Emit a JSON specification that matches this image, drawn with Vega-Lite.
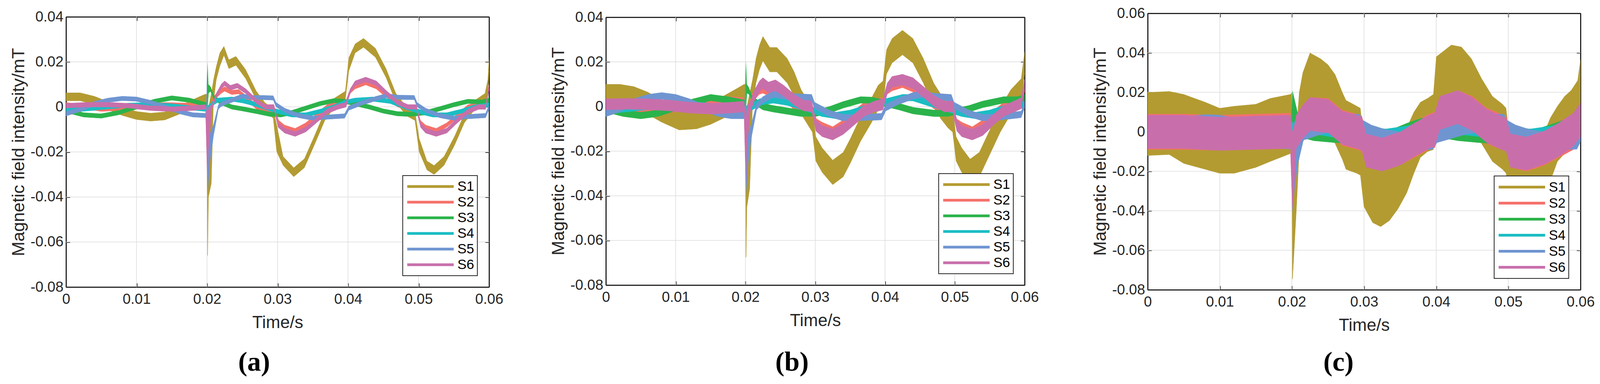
{
"$schema": "https://vega.github.io/schema/vega-lite/v6.json",
"background": "white",
"width": 4098, "height": 982,
"autosize": {"type": "none"},
"padding": 0,
"config": {
  "font": "Liberation Sans",
  "view": {"stroke": null},
  "axis": {"labelFont": "Liberation Sans", "labelFontSize": 37, "labelColor": "#262626", "titleFont": "Liberation Sans", "titleFontSize": 45, "titleFontWeight": "normal", "titleColor": "#262626", "domainColor": "#262626", "domainWidth": 3, "tickColor": "#262626", "tickWidth": 3, "tickSize": -10, "grid": false, "labelFlush": false, "labelOverlap": false},
  "legend": {"title": null, "symbolType": "stroke", "symbolSize": 14161, "symbolStrokeWidth": 7, "rowPadding": 0, "labelFont": "Liberation Sans", "labelFontSize": 35, "labelColor": "#000000", "labelOffset": 6, "padding": 8, "strokeColor": "#262626", "fillColor": "#ffffff", "zindex": 1}
},
"resolve": {"scale": {"x": "independent", "y": "independent", "color": "independent"}, "axis": {"x": "independent", "y": "independent"}, "legend": {"color": "independent"}},
"layer": [
 {"data": {"name": "ga"}, "mark": {"type": "rule", "color": "#dcdcdc", "strokeWidth": 1.5},
  "encoding": {
   "x": {"field": "gx", "type": "quantitative", "scale": {"domain": [0, 0.06], "range": [169, 1252], "nice": false, "zero": false}, "axis": null},
   "x2": {"field": "gx2"},
   "y": {"field": "gy", "type": "quantitative", "scale": {"domain": [-0.08, 0.04], "range": [734, 43], "nice": false, "zero": false}, "axis": null},
   "y2": {"field": "gy2"}
  }},
 {"data": {"name": "a"}, "mark": {"type": "line", "strokeWidth": 1},
  "encoding": {
   "x": {"field": "t", "type": "quantitative", "scale": {"domain": [0, 0.06], "range": [169, 1252], "nice": false, "zero": false}, "axis": {"orient": "top", "offset": -43, "values": [0, 0.01, 0.02, 0.03, 0.04, 0.05, 0.06], "labels": false, "title": null}},
   "y": {"field": "lo", "type": "quantitative", "scale": {"domain": [-0.08, 0.04], "range": [734, 43], "nice": false, "zero": false}, "axis": {"orient": "right", "offset": -2846, "values": [-0.08, -0.06, -0.04, -0.02, 0, 0.02, 0.04], "labels": false, "title": null}},
   "color": {"field": "s", "type": "nominal", "scale": {"domain": ["S1", "S2", "S3", "S4", "S5", "S6"], "range": ["#b39b32", "#f5716b", "#2bb34b", "#1bbdc3", "#6f95d1", "#c86fab"]},
    "legend": {"orient": "none", "legendX": 1031, "legendY": 449, "clipHeight": 40, "encode": {"legend": {"update": {"strokeWidth": {"value": 2}}}}}}
  }},
 {"data": {"name": "a"}, "mark": {"type": "area", "opacity": 1},
  "encoding": {
   "x": {"field": "t", "type": "quantitative", "scale": {"domain": [0, 0.06], "range": [169, 1252], "nice": false, "zero": false}, "axis": {"orient": "bottom", "offset": -248, "values": [0, 0.01, 0.02, 0.03, 0.04, 0.05, 0.06], "title": "Time/s", "titleFontSize": 44, "labelPadding": 23, "titlePadding": 20, "labelExpr": "abs(datum.value) < 1e-9 ? '0' : (datum.value < 0 ? '-' + format(-datum.value, '.2f') : format(datum.value, '.2f'))"}},
   "y": {"field": "lo", "type": "quantitative", "scale": {"domain": [-0.08, 0.04], "range": [734, 43], "nice": false, "zero": false}, "axis": {"orient": "left", "offset": -169, "values": [-0.08, -0.06, -0.04, -0.02, 0, 0.02, 0.04], "title": "Magnetic field intensity/mT", "labelPadding": 17, "titlePadding": 7, "labelExpr": "abs(datum.value) < 1e-9 ? '0' : (datum.value < 0 ? '-' + format(-datum.value, '.2f') : format(datum.value, '.2f'))"}},
   "y2": {"field": "hi"},
   "color": {"field": "s", "type": "nominal", "scale": {"domain": ["S1", "S2", "S3", "S4", "S5", "S6"], "range": ["#b39b32", "#f5716b", "#2bb34b", "#1bbdc3", "#6f95d1", "#c86fab"]}, "legend": null}
  }},
 {"data": {"name": "a"}, "mark": {"type": "point", "opacity": 0},
  "encoding": {
   "x": {"field": "t", "type": "quantitative", "scale": {"domain": [0, 0.06], "range": [169, 1252], "nice": false, "zero": false}, "axis": {"orient": "bottom", "offset": -248, "domain": false, "ticks": false, "labels": false, "title": "(a)", "titleFont": "Liberation Serif", "titleFontSize": 70, "titleFontWeight": "bold", "titleColor": "#000000", "titleX": 650, "titleY": 213, "titleBaseline": "alphabetic", "titleAlign": "center"}},
   "y": {"field": "lo", "type": "quantitative", "scale": {"domain": [-0.08, 0.04], "range": [734, 43], "nice": false, "zero": false}, "axis": null}
  }},
 {"data": {"name": "gb"}, "mark": {"type": "rule", "color": "#dcdcdc", "strokeWidth": 1.5},
  "encoding": {
   "x": {"field": "gx", "type": "quantitative", "scale": {"domain": [0, 0.06], "range": [1551, 2623], "nice": false, "zero": false}, "axis": null},
   "x2": {"field": "gx2"},
   "y": {"field": "gy", "type": "quantitative", "scale": {"domain": [-0.08, 0.04], "range": [729, 44], "nice": false, "zero": false}, "axis": null},
   "y2": {"field": "gy2"}
  }},
 {"data": {"name": "b"}, "mark": {"type": "line", "strokeWidth": 1},
  "encoding": {
   "x": {"field": "t", "type": "quantitative", "scale": {"domain": [0, 0.06], "range": [1551, 2623], "nice": false, "zero": false}, "axis": {"orient": "top", "offset": -44, "values": [0, 0.01, 0.02, 0.03, 0.04, 0.05, 0.06], "labels": false, "title": null}},
   "y": {"field": "lo", "type": "quantitative", "scale": {"domain": [-0.08, 0.04], "range": [729, 44], "nice": false, "zero": false}, "axis": {"orient": "right", "offset": -1475, "values": [-0.08, -0.06, -0.04, -0.02, 0, 0.02, 0.04], "labels": false, "title": null}},
   "color": {"field": "s", "type": "nominal", "scale": {"domain": ["S1", "S2", "S3", "S4", "S5", "S6"], "range": ["#b39b32", "#f5716b", "#2bb34b", "#1bbdc3", "#6f95d1", "#c86fab"]},
    "legend": {"orient": "none", "legendX": 2403, "legendY": 444, "clipHeight": 40, "encode": {"legend": {"update": {"strokeWidth": {"value": 2}}}}}}
  }},
 {"data": {"name": "b"}, "mark": {"type": "area", "opacity": 1},
  "encoding": {
   "x": {"field": "t", "type": "quantitative", "scale": {"domain": [0, 0.06], "range": [1551, 2623], "nice": false, "zero": false}, "axis": {"orient": "bottom", "offset": -253, "values": [0, 0.01, 0.02, 0.03, 0.04, 0.05, 0.06], "title": "Time/s", "titleFontSize": 44, "labelPadding": 23, "titlePadding": 20, "labelExpr": "abs(datum.value) < 1e-9 ? '0' : (datum.value < 0 ? '-' + format(-datum.value, '.2f') : format(datum.value, '.2f'))"}},
   "y": {"field": "lo", "type": "quantitative", "scale": {"domain": [-0.08, 0.04], "range": [729, 44], "nice": false, "zero": false}, "axis": {"orient": "left", "offset": -1551, "values": [-0.08, -0.06, -0.04, -0.02, 0, 0.02, 0.04], "title": "Magnetic field intensity/mT", "labelPadding": 17, "titlePadding": 7, "labelExpr": "abs(datum.value) < 1e-9 ? '0' : (datum.value < 0 ? '-' + format(-datum.value, '.2f') : format(datum.value, '.2f'))"}},
   "y2": {"field": "hi"},
   "color": {"field": "s", "type": "nominal", "scale": {"domain": ["S1", "S2", "S3", "S4", "S5", "S6"], "range": ["#b39b32", "#f5716b", "#2bb34b", "#1bbdc3", "#6f95d1", "#c86fab"]}, "legend": null}
  }},
 {"data": {"name": "b"}, "mark": {"type": "point", "opacity": 0},
  "encoding": {
   "x": {"field": "t", "type": "quantitative", "scale": {"domain": [0, 0.06], "range": [1551, 2623], "nice": false, "zero": false}, "axis": {"orient": "bottom", "offset": -253, "domain": false, "ticks": false, "labels": false, "title": "(b)", "titleFont": "Liberation Serif", "titleFontSize": 70, "titleFontWeight": "bold", "titleColor": "#000000", "titleX": 2027, "titleY": 218, "titleBaseline": "alphabetic", "titleAlign": "center"}},
   "y": {"field": "lo", "type": "quantitative", "scale": {"domain": [-0.08, 0.04], "range": [729, 44], "nice": false, "zero": false}, "axis": null}
  }},
 {"data": {"name": "gc"}, "mark": {"type": "rule", "color": "#dcdcdc", "strokeWidth": 1.5},
  "encoding": {
   "x": {"field": "gx", "type": "quantitative", "scale": {"domain": [0, 0.06], "range": [2938, 4046], "nice": false, "zero": false}, "axis": null},
   "x2": {"field": "gx2"},
   "y": {"field": "gy", "type": "quantitative", "scale": {"domain": [-0.08, 0.06], "range": [741, 34], "nice": false, "zero": false}, "axis": null},
   "y2": {"field": "gy2"}
  }},
 {"data": {"name": "c"}, "mark": {"type": "line", "strokeWidth": 1},
  "encoding": {
   "x": {"field": "t", "type": "quantitative", "scale": {"domain": [0, 0.06], "range": [2938, 4046], "nice": false, "zero": false}, "axis": {"orient": "top", "offset": -34, "values": [0, 0.01, 0.02, 0.03, 0.04, 0.05, 0.06], "labels": false, "title": null}},
   "y": {"field": "lo", "type": "quantitative", "scale": {"domain": [-0.08, 0.06], "range": [741, 34], "nice": false, "zero": false}, "axis": {"orient": "right", "offset": -52, "values": [-0.08, -0.06, -0.04, -0.02, 0, 0.02, 0.04, 0.06], "labels": false, "title": null}},
   "color": {"field": "s", "type": "nominal", "scale": {"domain": ["S1", "S2", "S3", "S4", "S5", "S6"], "range": ["#b39b32", "#f5716b", "#2bb34b", "#1bbdc3", "#6f95d1", "#c86fab"]},
    "legend": {"orient": "none", "legendX": 3825, "legendY": 450, "clipHeight": 41, "encode": {"legend": {"update": {"strokeWidth": {"value": 2}}}}}}
  }},
 {"data": {"name": "c"}, "mark": {"type": "area", "opacity": 1},
  "encoding": {
   "x": {"field": "t", "type": "quantitative", "scale": {"domain": [0, 0.06], "range": [2938, 4046], "nice": false, "zero": false}, "axis": {"orient": "bottom", "offset": -241, "values": [0, 0.01, 0.02, 0.03, 0.04, 0.05, 0.06], "title": "Time/s", "titleFontSize": 44, "labelPadding": 23, "titlePadding": 20, "labelExpr": "abs(datum.value) < 1e-9 ? '0' : (datum.value < 0 ? '-' + format(-datum.value, '.2f') : format(datum.value, '.2f'))"}},
   "y": {"field": "lo", "type": "quantitative", "scale": {"domain": [-0.08, 0.06], "range": [741, 34], "nice": false, "zero": false}, "axis": {"orient": "left", "offset": -2938, "values": [-0.08, -0.06, -0.04, -0.02, 0, 0.02, 0.04, 0.06], "title": "Magnetic field intensity/mT", "labelPadding": 17, "titlePadding": 7, "labelExpr": "abs(datum.value) < 1e-9 ? '0' : (datum.value < 0 ? '-' + format(-datum.value, '.2f') : format(datum.value, '.2f'))"}},
   "y2": {"field": "hi"},
   "color": {"field": "s", "type": "nominal", "scale": {"domain": ["S1", "S2", "S3", "S4", "S5", "S6"], "range": ["#b39b32", "#f5716b", "#2bb34b", "#1bbdc3", "#6f95d1", "#c86fab"]}, "legend": null}
  }},
 {"data": {"name": "c"}, "mark": {"type": "point", "opacity": 0},
  "encoding": {
   "x": {"field": "t", "type": "quantitative", "scale": {"domain": [0, 0.06], "range": [2938, 4046], "nice": false, "zero": false}, "axis": {"orient": "bottom", "offset": -241, "domain": false, "ticks": false, "labels": false, "title": "(c)", "titleFont": "Liberation Serif", "titleFontSize": 70, "titleFontWeight": "bold", "titleColor": "#000000", "titleX": 3426, "titleY": 206, "titleBaseline": "alphabetic", "titleAlign": "center"}},
   "y": {"field": "lo", "type": "quantitative", "scale": {"domain": [-0.08, 0.06], "range": [741, 34], "nice": false, "zero": false}, "axis": null}
  }}
],
"datasets": {
"ga": [
{"gx":0.01,"gx2":0.01,"gy":-0.08,"gy2":0.04},{"gx":0.02,"gx2":0.02,"gy":-0.08,"gy2":0.04},{"gx":0.03,"gx2":0.03,"gy":-0.08,"gy2":0.04},{"gx":0.04,"gx2":0.04,"gy":-0.08,"gy2":0.04},{"gx":0.05,"gx2":0.05,"gy":-0.08,"gy2":0.04},
{"gx":0,"gx2":0.06,"gy":-0.06,"gy2":-0.06},{"gx":0,"gx2":0.06,"gy":-0.04,"gy2":-0.04},{"gx":0,"gx2":0.06,"gy":-0.02,"gy2":-0.02},{"gx":0,"gx2":0.06,"gy":0,"gy2":0},{"gx":0,"gx2":0.06,"gy":0.02,"gy2":0.02}
],
"gb": [
{"gx":0.01,"gx2":0.01,"gy":-0.08,"gy2":0.04},{"gx":0.02,"gx2":0.02,"gy":-0.08,"gy2":0.04},{"gx":0.03,"gx2":0.03,"gy":-0.08,"gy2":0.04},{"gx":0.04,"gx2":0.04,"gy":-0.08,"gy2":0.04},{"gx":0.05,"gx2":0.05,"gy":-0.08,"gy2":0.04},
{"gx":0,"gx2":0.06,"gy":-0.06,"gy2":-0.06},{"gx":0,"gx2":0.06,"gy":-0.04,"gy2":-0.04},{"gx":0,"gx2":0.06,"gy":-0.02,"gy2":-0.02},{"gx":0,"gx2":0.06,"gy":0,"gy2":0},{"gx":0,"gx2":0.06,"gy":0.02,"gy2":0.02}
],
"gc": [
{"gx":0.01,"gx2":0.01,"gy":-0.08,"gy2":0.06},{"gx":0.02,"gx2":0.02,"gy":-0.08,"gy2":0.06},{"gx":0.03,"gx2":0.03,"gy":-0.08,"gy2":0.06},{"gx":0.04,"gx2":0.04,"gy":-0.08,"gy2":0.06},{"gx":0.05,"gx2":0.05,"gy":-0.08,"gy2":0.06},
{"gx":0,"gx2":0.06,"gy":-0.06,"gy2":-0.06},{"gx":0,"gx2":0.06,"gy":-0.04,"gy2":-0.04},{"gx":0,"gx2":0.06,"gy":-0.02,"gy2":-0.02},{"gx":0,"gx2":0.06,"gy":0,"gy2":0},{"gx":0,"gx2":0.06,"gy":0.02,"gy2":0.02},{"gx":0,"gx2":0.06,"gy":0.04,"gy2":0.04}
],
"a": [
{"s":"S1","t":0,"lo":0.0027,"hi":0.0063},{"s":"S1","t":0.002,"lo":0.0027,"hi":0.0063},{"s":"S1","t":0.004,"lo":0.0012,"hi":0.0048},{"s":"S1","t":0.006,"lo":-0.0013,"hi":0.0023},{"s":"S1","t":0.008,"lo":-0.0038,"hi":-0.0002},{"s":"S1","t":0.01,"lo":-0.0056,"hi":-0.002},{"s":"S1","t":0.012,"lo":-0.0063,"hi":-0.0027},{"s":"S1","t":0.014,"lo":-0.0058,"hi":-0.0022},{"s":"S1","t":0.016,"lo":-0.0033,"hi":0.0003},{"s":"S1","t":0.018,"lo":-0.0003,"hi":0.0033},{"s":"S1","t":0.0198,"lo":0.0022,"hi":0.0058},{"s":"S1","t":0.02,"lo":0.0015,"hi":0.0055},{"s":"S1","t":0.02008,"lo":-0.066,"hi":-0.01},{"s":"S1","t":0.0202,"lo":-0.04,"hi":0},{"s":"S1","t":0.0206,"lo":-0.034,"hi":0.006},{"s":"S1","t":0.0209,"lo":0.002,"hi":0.012},{"s":"S1","t":0.0213,"lo":0.012,"hi":0.018},{"s":"S1","t":0.0218,"lo":0.018,"hi":0.024},{"s":"S1","t":0.0224,"lo":0.023,"hi":0.027},{"s":"S1","t":0.0231,"lo":0.017,"hi":0.021},{"s":"S1","t":0.0241,"lo":0.0185,"hi":0.0225},{"s":"S1","t":0.0255,"lo":0.0125,"hi":0.0165},{"s":"S1","t":0.027,"lo":0.003,"hi":0.007},{"s":"S1","t":0.0282,"lo":-0.002,"hi":0.002},{"s":"S1","t":0.0294,"lo":-0.005,"hi":-0.001},{"s":"S1","t":0.0299,"lo":-0.02,"hi":-0.008},{"s":"S1","t":0.0308,"lo":-0.026,"hi":-0.022},{"s":"S1","t":0.0323,"lo":-0.031,"hi":-0.027},{"s":"S1","t":0.0338,"lo":-0.027,"hi":-0.023},{"s":"S1","t":0.0352,"lo":-0.017,"hi":-0.013},{"s":"S1","t":0.0367,"lo":-0.006,"hi":-0.002},{"s":"S1","t":0.0381,"lo":0,"hi":0.004},{"s":"S1","t":0.0396,"lo":0.003,"hi":0.007},{"s":"S1","t":0.0401,"lo":0.016,"hi":0.022},{"s":"S1","t":0.041,"lo":0.024,"hi":0.028},{"s":"S1","t":0.0422,"lo":0.0265,"hi":0.0305},{"s":"S1","t":0.0439,"lo":0.022,"hi":0.026},{"s":"S1","t":0.0454,"lo":0.013,"hi":0.017},{"s":"S1","t":0.0468,"lo":0.002,"hi":0.006},{"s":"S1","t":0.0483,"lo":-0.004,"hi":0},{"s":"S1","t":0.0495,"lo":-0.006,"hi":-0.002},{"s":"S1","t":0.0501,"lo":-0.02,"hi":-0.014},{"s":"S1","t":0.0512,"lo":-0.028,"hi":-0.024},{"s":"S1","t":0.0522,"lo":-0.03,"hi":-0.026},{"s":"S1","t":0.0536,"lo":-0.026,"hi":-0.022},{"s":"S1","t":0.0551,"lo":-0.017,"hi":-0.013},{"s":"S1","t":0.0565,"lo":-0.007,"hi":-0.003},{"s":"S1","t":0.058,"lo":-0.001,"hi":0.003},{"s":"S1","t":0.0594,"lo":0.002,"hi":0.006},{"s":"S1","t":0.0598,"lo":0.004,"hi":0.012},{"s":"S1","t":0.06,"lo":0.016,"hi":0.022},
{"s":"S2","t":0,"lo":0,"hi":0.002},{"s":"S2","t":0.003,"lo":-0.001,"hi":0.001},{"s":"S2","t":0.005,"lo":-0.002,"hi":0},{"s":"S2","t":0.008,"lo":-0.0015,"hi":0.0005},{"s":"S2","t":0.011,"lo":-0.0005,"hi":0.0015},{"s":"S2","t":0.014,"lo":0,"hi":0.002},{"s":"S2","t":0.017,"lo":-0.0002,"hi":0.0018},{"s":"S2","t":0.0198,"lo":-0.0007,"hi":0.0013},{"s":"S2","t":0.02008,"lo":-0.03,"hi":0},{"s":"S2","t":0.0205,"lo":-0.001,"hi":0.001},{"s":"S2","t":0.021,"lo":0.003,"hi":0.005},{"s":"S2","t":0.022,"lo":0.006,"hi":0.008},{"s":"S2","t":0.0225,"lo":0.007,"hi":0.009},{"s":"S2","t":0.0235,"lo":0.0055,"hi":0.0075},{"s":"S2","t":0.0245,"lo":0.0058,"hi":0.0078},{"s":"S2","t":0.026,"lo":0.002,"hi":0.004},{"s":"S2","t":0.027,"lo":-0.001,"hi":0.001},{"s":"S2","t":0.028,"lo":-0.002,"hi":0},{"s":"S2","t":0.0295,"lo":-0.0025,"hi":-0.0005},{"s":"S2","t":0.0302,"lo":-0.008,"hi":-0.006},{"s":"S2","t":0.031,"lo":-0.01,"hi":-0.008},{"s":"S2","t":0.0325,"lo":-0.0115,"hi":-0.0095},{"s":"S2","t":0.034,"lo":-0.009,"hi":-0.007},{"s":"S2","t":0.0355,"lo":-0.005,"hi":-0.003},{"s":"S2","t":0.037,"lo":-0.001,"hi":0.001},{"s":"S2","t":0.0385,"lo":0.001,"hi":0.003},{"s":"S2","t":0.0397,"lo":0.001,"hi":0.003},{"s":"S2","t":0.0403,"lo":0.006,"hi":0.008},{"s":"S2","t":0.041,"lo":0.008,"hi":0.01},{"s":"S2","t":0.0425,"lo":0.0098,"hi":0.0118},{"s":"S2","t":0.044,"lo":0.008,"hi":0.01},{"s":"S2","t":0.0455,"lo":0.004,"hi":0.006},{"s":"S2","t":0.047,"lo":0,"hi":0.002},{"s":"S2","t":0.0485,"lo":-0.0015,"hi":0.0005},{"s":"S2","t":0.0497,"lo":-0.002,"hi":0},{"s":"S2","t":0.0503,"lo":-0.008,"hi":-0.006},{"s":"S2","t":0.051,"lo":-0.01,"hi":-0.008},{"s":"S2","t":0.0525,"lo":-0.0115,"hi":-0.0095},{"s":"S2","t":0.054,"lo":-0.009,"hi":-0.007},{"s":"S2","t":0.0555,"lo":-0.005,"hi":-0.003},{"s":"S2","t":0.057,"lo":-0.001,"hi":0.001},{"s":"S2","t":0.0585,"lo":0,"hi":0.002},{"s":"S2","t":0.0595,"lo":0,"hi":0.002},{"s":"S2","t":0.06,"lo":0.008,"hi":0.01},
{"s":"S3","t":0,"lo":-0.0025,"hi":-0.0005},{"s":"S3","t":0.0025,"lo":-0.0045,"hi":-0.0025},{"s":"S3","t":0.005,"lo":-0.005,"hi":-0.003},{"s":"S3","t":0.0075,"lo":-0.0035,"hi":-0.0015},{"s":"S3","t":0.01,"lo":-0.001,"hi":0.001},{"s":"S3","t":0.0125,"lo":0.0015,"hi":0.0035},{"s":"S3","t":0.015,"lo":0.003,"hi":0.005},{"s":"S3","t":0.0175,"lo":0.002,"hi":0.004},{"s":"S3","t":0.0199,"lo":0,"hi":0.002},{"s":"S3","t":0.02008,"lo":0,"hi":0.02},{"s":"S3","t":0.0202,"lo":0.006,"hi":0.01},{"s":"S3","t":0.0205,"lo":0.007,"hi":0.009},{"s":"S3","t":0.021,"lo":0.003,"hi":0.005},{"s":"S3","t":0.022,"lo":0.001,"hi":0.003},{"s":"S3","t":0.0235,"lo":-0.001,"hi":0.001},{"s":"S3","t":0.025,"lo":-0.0018,"hi":0.0002},{"s":"S3","t":0.027,"lo":-0.003,"hi":-0.001},{"s":"S3","t":0.029,"lo":-0.0043,"hi":-0.0023},{"s":"S3","t":0.0305,"lo":-0.0045,"hi":-0.0025},{"s":"S3","t":0.032,"lo":-0.0035,"hi":-0.0015},{"s":"S3","t":0.034,"lo":-0.0015,"hi":0.0005},{"s":"S3","t":0.036,"lo":0.0005,"hi":0.0025},{"s":"S3","t":0.038,"lo":0.0018,"hi":0.0038},{"s":"S3","t":0.0395,"lo":0.0015,"hi":0.0035},{"s":"S3","t":0.041,"lo":0.0005,"hi":0.0025},{"s":"S3","t":0.043,"lo":-0.001,"hi":0.001},{"s":"S3","t":0.045,"lo":-0.0028,"hi":-0.0008},{"s":"S3","t":0.047,"lo":-0.004,"hi":-0.002},{"s":"S3","t":0.049,"lo":-0.0043,"hi":-0.0023},{"s":"S3","t":0.051,"lo":-0.0035,"hi":-0.0015},{"s":"S3","t":0.053,"lo":-0.0018,"hi":0.0002},{"s":"S3","t":0.055,"lo":0,"hi":0.002},{"s":"S3","t":0.057,"lo":0.0015,"hi":0.0035},{"s":"S3","t":0.059,"lo":0.0012,"hi":0.0032},{"s":"S3","t":0.06,"lo":0.002,"hi":0.004},
{"s":"S4","t":0,"lo":-0.0025,"hi":-0.0005},{"s":"S4","t":0.003,"lo":-0.0018,"hi":0.0002},{"s":"S4","t":0.006,"lo":-0.001,"hi":0.001},{"s":"S4","t":0.009,"lo":-0.0002,"hi":0.0018},{"s":"S4","t":0.012,"lo":0,"hi":0.002},{"s":"S4","t":0.015,"lo":-0.0005,"hi":0.0015},{"s":"S4","t":0.018,"lo":-0.0015,"hi":0.0005},{"s":"S4","t":0.0199,"lo":-0.002,"hi":0},{"s":"S4","t":0.021,"lo":0.001,"hi":0.003},{"s":"S4","t":0.0215,"lo":0.002,"hi":0.004},{"s":"S4","t":0.0235,"lo":0.0025,"hi":0.0045},{"s":"S4","t":0.025,"lo":0.0018,"hi":0.0038},{"s":"S4","t":0.026,"lo":0.001,"hi":0.003},{"s":"S4","t":0.028,"lo":-0.001,"hi":0.001},{"s":"S4","t":0.03,"lo":-0.003,"hi":-0.001},{"s":"S4","t":0.032,"lo":-0.0045,"hi":-0.0025},{"s":"S4","t":0.034,"lo":-0.0045,"hi":-0.0025},{"s":"S4","t":0.036,"lo":-0.003,"hi":-0.001},{"s":"S4","t":0.038,"lo":-0.001,"hi":0.001},{"s":"S4","t":0.0395,"lo":0.001,"hi":0.003},{"s":"S4","t":0.041,"lo":0.002,"hi":0.004},{"s":"S4","t":0.0435,"lo":0.0025,"hi":0.0045},{"s":"S4","t":0.046,"lo":0.0015,"hi":0.0035},{"s":"S4","t":0.048,"lo":-0.001,"hi":0.001},{"s":"S4","t":0.05,"lo":-0.003,"hi":-0.001},{"s":"S4","t":0.052,"lo":-0.0045,"hi":-0.0025},{"s":"S4","t":0.054,"lo":-0.0045,"hi":-0.0025},{"s":"S4","t":0.056,"lo":-0.003,"hi":-0.001},{"s":"S4","t":0.058,"lo":-0.001,"hi":0.001},{"s":"S4","t":0.06,"lo":0,"hi":0.002},
{"s":"S5","t":0,"lo":-0.004,"hi":-0.002},{"s":"S5","t":0.002,"lo":-0.0022,"hi":-0.0002},{"s":"S5","t":0.004,"lo":0.0005,"hi":0.0025},{"s":"S5","t":0.006,"lo":0.002,"hi":0.004},{"s":"S5","t":0.008,"lo":0.0028,"hi":0.0048},{"s":"S5","t":0.01,"lo":0.0025,"hi":0.0045},{"s":"S5","t":0.012,"lo":0.001,"hi":0.003},{"s":"S5","t":0.014,"lo":-0.001,"hi":0.001},{"s":"S5","t":0.016,"lo":-0.003,"hi":-0.001},{"s":"S5","t":0.018,"lo":-0.0045,"hi":-0.0025},{"s":"S5","t":0.0199,"lo":-0.0048,"hi":-0.0028},{"s":"S5","t":0.02,"lo":-0.004,"hi":0.016},{"s":"S5","t":0.02008,"lo":-0.039,"hi":0},{"s":"S5","t":0.0204,"lo":-0.025,"hi":-0.012},{"s":"S5","t":0.0209,"lo":-0.013,"hi":-0.008},{"s":"S5","t":0.0216,"lo":-0.001,"hi":0.001},{"s":"S5","t":0.022,"lo":0.0002,"hi":0.0022},{"s":"S5","t":0.0235,"lo":0.002,"hi":0.004},{"s":"S5","t":0.025,"lo":0.0038,"hi":0.0058},{"s":"S5","t":0.0265,"lo":0.0032,"hi":0.0052},{"s":"S5","t":0.028,"lo":0.0032,"hi":0.0052},{"s":"S5","t":0.0294,"lo":0.003,"hi":0.005},{"s":"S5","t":0.0298,"lo":0,"hi":0.002},{"s":"S5","t":0.031,"lo":-0.0025,"hi":-0.0005},{"s":"S5","t":0.033,"lo":-0.0048,"hi":-0.0028},{"s":"S5","t":0.035,"lo":-0.006,"hi":-0.004},{"s":"S5","t":0.037,"lo":-0.0055,"hi":-0.0035},{"s":"S5","t":0.0395,"lo":-0.005,"hi":-0.003},{"s":"S5","t":0.0401,"lo":-0.0015,"hi":0.0005},{"s":"S5","t":0.042,"lo":0.0008,"hi":0.0028},{"s":"S5","t":0.044,"lo":0.0028,"hi":0.0048},{"s":"S5","t":0.0455,"lo":0.004,"hi":0.006},{"s":"S5","t":0.047,"lo":0.0033,"hi":0.0053},{"s":"S5","t":0.0494,"lo":0.0032,"hi":0.0052},{"s":"S5","t":0.0498,"lo":0,"hi":0.002},{"s":"S5","t":0.051,"lo":-0.0025,"hi":-0.0005},{"s":"S5","t":0.053,"lo":-0.0048,"hi":-0.0028},{"s":"S5","t":0.055,"lo":-0.006,"hi":-0.004},{"s":"S5","t":0.057,"lo":-0.0053,"hi":-0.0033},{"s":"S5","t":0.0595,"lo":-0.0048,"hi":-0.0028},{"s":"S5","t":0.06,"lo":-0.001,"hi":0.001},
{"s":"S6","t":0,"lo":-0.0006,"hi":0.0016},{"s":"S6","t":0.003,"lo":-0.0001,"hi":0.0021},{"s":"S6","t":0.006,"lo":-0.0001,"hi":0.0021},{"s":"S6","t":0.009,"lo":-0.0006,"hi":0.0016},{"s":"S6","t":0.012,"lo":-0.0016,"hi":0.0006},{"s":"S6","t":0.015,"lo":-0.0021,"hi":0.0001},{"s":"S6","t":0.018,"lo":-0.0016,"hi":0.0006},{"s":"S6","t":0.0198,"lo":-0.0011,"hi":0.0011},{"s":"S6","t":0.02008,"lo":-0.036,"hi":-0.005},{"s":"S6","t":0.0202,"lo":-0.02,"hi":0},{"s":"S6","t":0.0207,"lo":-0.0011,"hi":0.0011},{"s":"S6","t":0.0213,"lo":0.0039,"hi":0.0061},{"s":"S6","t":0.022,"lo":0.0079,"hi":0.0101},{"s":"S6","t":0.0225,"lo":0.0094,"hi":0.0116},{"s":"S6","t":0.0233,"lo":0.0074,"hi":0.0096},{"s":"S6","t":0.0243,"lo":0.0084,"hi":0.0106},{"s":"S6","t":0.0255,"lo":0.0059,"hi":0.0081},{"s":"S6","t":0.027,"lo":0.0014,"hi":0.0036},{"s":"S6","t":0.0283,"lo":-0.0011,"hi":0.0011},{"s":"S6","t":0.0295,"lo":-0.0011,"hi":0.0011},{"s":"S6","t":0.0301,"lo":-0.0091,"hi":-0.0069},{"s":"S6","t":0.031,"lo":-0.0116,"hi":-0.0094},{"s":"S6","t":0.0325,"lo":-0.0131,"hi":-0.0109},{"s":"S6","t":0.034,"lo":-0.0111,"hi":-0.0089},{"s":"S6","t":0.0355,"lo":-0.0071,"hi":-0.0049},{"s":"S6","t":0.037,"lo":-0.0031,"hi":-0.0009},{"s":"S6","t":0.0385,"lo":-0.0011,"hi":0.0011},{"s":"S6","t":0.0397,"lo":-0.0001,"hi":0.0021},{"s":"S6","t":0.0403,"lo":0.0059,"hi":0.0081},{"s":"S6","t":0.041,"lo":0.0094,"hi":0.0116},{"s":"S6","t":0.0425,"lo":0.0111,"hi":0.0133},{"s":"S6","t":0.044,"lo":0.0094,"hi":0.0116},{"s":"S6","t":0.0455,"lo":0.0049,"hi":0.0071},{"s":"S6","t":0.047,"lo":0.0009,"hi":0.0031},{"s":"S6","t":0.0485,"lo":-0.0011,"hi":0.0011},{"s":"S6","t":0.0497,"lo":-0.0011,"hi":0.0011},{"s":"S6","t":0.0503,"lo":-0.0091,"hi":-0.0069},{"s":"S6","t":0.051,"lo":-0.0116,"hi":-0.0094},{"s":"S6","t":0.0525,"lo":-0.0131,"hi":-0.0109},{"s":"S6","t":0.054,"lo":-0.0116,"hi":-0.0094},{"s":"S6","t":0.0555,"lo":-0.0071,"hi":-0.0049},{"s":"S6","t":0.057,"lo":-0.0031,"hi":-0.0009},{"s":"S6","t":0.0585,"lo":-0.0011,"hi":0.0011},{"s":"S6","t":0.0595,"lo":-0.0011,"hi":0.0011},{"s":"S6","t":0.06,"lo":0.0079,"hi":0.0101}
],
"b": [
{"s":"S1","t":0,"lo":0,"hi":0.01},{"s":"S1","t":0.002,"lo":0,"hi":0.01},{"s":"S1","t":0.004,"lo":-0.001,"hi":0.009},{"s":"S1","t":0.006,"lo":-0.0035,"hi":0.0065},{"s":"S1","t":0.008,"lo":-0.007,"hi":0.003},{"s":"S1","t":0.0105,"lo":-0.0105,"hi":-0.0005},{"s":"S1","t":0.013,"lo":-0.01,"hi":0},{"s":"S1","t":0.015,"lo":-0.008,"hi":0.002},{"s":"S1","t":0.017,"lo":-0.005,"hi":0.005},{"s":"S1","t":0.019,"lo":-0.0015,"hi":0.0085},{"s":"S1","t":0.0198,"lo":0,"hi":0.01},{"s":"S1","t":0.02,"lo":0,"hi":0.01},{"s":"S1","t":0.02008,"lo":-0.0675,"hi":-0.01},{"s":"S1","t":0.0202,"lo":-0.045,"hi":0},{"s":"S1","t":0.0206,"lo":-0.037,"hi":0.006},{"s":"S1","t":0.021,"lo":0,"hi":0.012},{"s":"S1","t":0.0215,"lo":0.0105,"hi":0.0215},{"s":"S1","t":0.022,"lo":0.0165,"hi":0.0275},{"s":"S1","t":0.0225,"lo":0.0205,"hi":0.0315},{"s":"S1","t":0.0235,"lo":0.0155,"hi":0.0265},{"s":"S1","t":0.0245,"lo":0.0155,"hi":0.0265},{"s":"S1","t":0.026,"lo":0.0105,"hi":0.0215},{"s":"S1","t":0.027,"lo":0.0045,"hi":0.0155},{"s":"S1","t":0.028,"lo":-0.0035,"hi":0.0075},{"s":"S1","t":0.029,"lo":-0.0085,"hi":0.0025},{"s":"S1","t":0.0296,"lo":-0.0115,"hi":-0.0005},{"s":"S1","t":0.0301,"lo":-0.0245,"hi":-0.0135},{"s":"S1","t":0.031,"lo":-0.0295,"hi":-0.0185},{"s":"S1","t":0.0325,"lo":-0.035,"hi":-0.024},{"s":"S1","t":0.034,"lo":-0.0315,"hi":-0.0205},{"s":"S1","t":0.035,"lo":-0.0255,"hi":-0.0145},{"s":"S1","t":0.0365,"lo":-0.0155,"hi":-0.0045},{"s":"S1","t":0.038,"lo":-0.0075,"hi":0.0035},{"s":"S1","t":0.039,"lo":-0.0015,"hi":0.0095},{"s":"S1","t":0.0397,"lo":0.0005,"hi":0.0115},{"s":"S1","t":0.0402,"lo":0.0145,"hi":0.0255},{"s":"S1","t":0.041,"lo":0.0195,"hi":0.0305},{"s":"S1","t":0.0425,"lo":0.0232,"hi":0.0342},{"s":"S1","t":0.044,"lo":0.0195,"hi":0.0305},{"s":"S1","t":0.0455,"lo":0.0105,"hi":0.0215},{"s":"S1","t":0.047,"lo":-0.0005,"hi":0.0105},{"s":"S1","t":0.048,"lo":-0.0055,"hi":0.0055},{"s":"S1","t":0.049,"lo":-0.0095,"hi":0.0015},{"s":"S1","t":0.0497,"lo":-0.0115,"hi":-0.0005},{"s":"S1","t":0.0502,"lo":-0.0245,"hi":-0.0135},{"s":"S1","t":0.051,"lo":-0.0295,"hi":-0.0185},{"s":"S1","t":0.0522,"lo":-0.0345,"hi":-0.0235},{"s":"S1","t":0.0535,"lo":-0.0315,"hi":-0.0205},{"s":"S1","t":0.055,"lo":-0.0215,"hi":-0.0105},{"s":"S1","t":0.0565,"lo":-0.0115,"hi":-0.0005},{"s":"S1","t":0.058,"lo":-0.0035,"hi":0.0075},{"s":"S1","t":0.0595,"lo":0.0015,"hi":0.0125},{"s":"S1","t":0.06,"lo":0.015,"hi":0.025},
{"s":"S2","t":0,"lo":-0.0015,"hi":0.0025},{"s":"S2","t":0.003,"lo":-0.003,"hi":0.001},{"s":"S2","t":0.006,"lo":-0.004,"hi":0},{"s":"S2","t":0.009,"lo":-0.003,"hi":0.001},{"s":"S2","t":0.012,"lo":-0.0015,"hi":0.0025},{"s":"S2","t":0.015,"lo":-0.0002,"hi":0.0038},{"s":"S2","t":0.018,"lo":0.0005,"hi":0.0045},{"s":"S2","t":0.0198,"lo":0,"hi":0.004},{"s":"S2","t":0.02008,"lo":-0.03,"hi":0},{"s":"S2","t":0.0206,"lo":-0.002,"hi":0.002},{"s":"S2","t":0.021,"lo":0.002,"hi":0.006},{"s":"S2","t":0.022,"lo":0.0055,"hi":0.0095},{"s":"S2","t":0.0225,"lo":0.006,"hi":0.01},{"s":"S2","t":0.0235,"lo":0.0045,"hi":0.0085},{"s":"S2","t":0.0245,"lo":0.005,"hi":0.009},{"s":"S2","t":0.026,"lo":0.0015,"hi":0.0055},{"s":"S2","t":0.027,"lo":-0.0015,"hi":0.0025},{"s":"S2","t":0.028,"lo":-0.003,"hi":0.001},{"s":"S2","t":0.0295,"lo":-0.004,"hi":0},{"s":"S2","t":0.0302,"lo":-0.0095,"hi":-0.0055},{"s":"S2","t":0.031,"lo":-0.011,"hi":-0.007},{"s":"S2","t":0.0325,"lo":-0.013,"hi":-0.009},{"s":"S2","t":0.034,"lo":-0.01,"hi":-0.006},{"s":"S2","t":0.0355,"lo":-0.006,"hi":-0.002},{"s":"S2","t":0.037,"lo":-0.002,"hi":0.002},{"s":"S2","t":0.0385,"lo":-0.0005,"hi":0.0035},{"s":"S2","t":0.0397,"lo":0,"hi":0.004},{"s":"S2","t":0.0403,"lo":0.0055,"hi":0.0095},{"s":"S2","t":0.041,"lo":0.007,"hi":0.011},{"s":"S2","t":0.0425,"lo":0.0085,"hi":0.0125},{"s":"S2","t":0.044,"lo":0.0065,"hi":0.0105},{"s":"S2","t":0.0455,"lo":0.003,"hi":0.007},{"s":"S2","t":0.047,"lo":-0.001,"hi":0.003},{"s":"S2","t":0.0485,"lo":-0.003,"hi":0.001},{"s":"S2","t":0.0497,"lo":-0.004,"hi":0},{"s":"S2","t":0.0503,"lo":-0.0095,"hi":-0.0055},{"s":"S2","t":0.051,"lo":-0.011,"hi":-0.007},{"s":"S2","t":0.0525,"lo":-0.013,"hi":-0.009},{"s":"S2","t":0.054,"lo":-0.01,"hi":-0.006},{"s":"S2","t":0.0555,"lo":-0.006,"hi":-0.002},{"s":"S2","t":0.057,"lo":-0.002,"hi":0.002},{"s":"S2","t":0.0585,"lo":-0.001,"hi":0.003},{"s":"S2","t":0.0595,"lo":-0.0005,"hi":0.0035},{"s":"S2","t":0.06,"lo":0.007,"hi":0.011},
{"s":"S3","t":0,"lo":-0.0025,"hi":0.0005},{"s":"S3","t":0.0025,"lo":-0.0045,"hi":-0.0015},{"s":"S3","t":0.005,"lo":-0.0055,"hi":-0.0025},{"s":"S3","t":0.0075,"lo":-0.0045,"hi":-0.0015},{"s":"S3","t":0.01,"lo":-0.002,"hi":0.001},{"s":"S3","t":0.0125,"lo":0.0005,"hi":0.0035},{"s":"S3","t":0.015,"lo":0.0025,"hi":0.0055},{"s":"S3","t":0.0175,"lo":0.0015,"hi":0.0045},{"s":"S3","t":0.0199,"lo":0,"hi":0.003},{"s":"S3","t":0.02008,"lo":0,"hi":0.0205},{"s":"S3","t":0.0202,"lo":0.006,"hi":0.01},{"s":"S3","t":0.0205,"lo":0.0055,"hi":0.0085},{"s":"S3","t":0.021,"lo":0.0015,"hi":0.0045},{"s":"S3","t":0.0225,"lo":-0.0015,"hi":0.0015},{"s":"S3","t":0.024,"lo":-0.0025,"hi":0.0005},{"s":"S3","t":0.026,"lo":-0.0035,"hi":-0.0005},{"s":"S3","t":0.028,"lo":-0.0045,"hi":-0.0015},{"s":"S3","t":0.03,"lo":-0.0045,"hi":-0.0015},{"s":"S3","t":0.032,"lo":-0.003,"hi":0},{"s":"S3","t":0.034,"lo":-0.0007,"hi":0.0023},{"s":"S3","t":0.0365,"lo":0.0015,"hi":0.0045},{"s":"S3","t":0.038,"lo":0.0013,"hi":0.0043},{"s":"S3","t":0.04,"lo":0,"hi":0.003},{"s":"S3","t":0.042,"lo":-0.0015,"hi":0.0015},{"s":"S3","t":0.044,"lo":-0.0033,"hi":-0.0003},{"s":"S3","t":0.047,"lo":-0.0045,"hi":-0.0015},{"s":"S3","t":0.049,"lo":-0.0045,"hi":-0.0015},{"s":"S3","t":0.052,"lo":-0.0025,"hi":0.0005},{"s":"S3","t":0.054,"lo":-0.0005,"hi":0.0025},{"s":"S3","t":0.057,"lo":0.0015,"hi":0.0045},{"s":"S3","t":0.059,"lo":0.0015,"hi":0.0045},{"s":"S3","t":0.06,"lo":0.0025,"hi":0.0055},
{"s":"S4","t":0,"lo":-0.0035,"hi":-0.0005},{"s":"S4","t":0.003,"lo":-0.0025,"hi":0.0005},{"s":"S4","t":0.006,"lo":-0.0015,"hi":0.0015},{"s":"S4","t":0.009,"lo":-0.0005,"hi":0.0025},{"s":"S4","t":0.012,"lo":-0.0005,"hi":0.0025},{"s":"S4","t":0.015,"lo":-0.0015,"hi":0.0015},{"s":"S4","t":0.018,"lo":-0.0025,"hi":0.0005},{"s":"S4","t":0.0199,"lo":-0.003,"hi":0},{"s":"S4","t":0.021,"lo":-0.0015,"hi":0.0015},{"s":"S4","t":0.022,"lo":0.0005,"hi":0.0035},{"s":"S4","t":0.024,"lo":0.0015,"hi":0.0045},{"s":"S4","t":0.026,"lo":0.0005,"hi":0.0035},{"s":"S4","t":0.029,"lo":-0.0025,"hi":0.0005},{"s":"S4","t":0.031,"lo":-0.0045,"hi":-0.0015},{"s":"S4","t":0.033,"lo":-0.0055,"hi":-0.0025},{"s":"S4","t":0.035,"lo":-0.0045,"hi":-0.0015},{"s":"S4","t":0.037,"lo":-0.0025,"hi":0.0005},{"s":"S4","t":0.04,"lo":0.0005,"hi":0.0035},{"s":"S4","t":0.0425,"lo":0.0025,"hi":0.0055},{"s":"S4","t":0.044,"lo":0.0025,"hi":0.0055},{"s":"S4","t":0.046,"lo":0.0005,"hi":0.0035},{"s":"S4","t":0.049,"lo":-0.0025,"hi":0.0005},{"s":"S4","t":0.051,"lo":-0.0045,"hi":-0.0015},{"s":"S4","t":0.053,"lo":-0.0055,"hi":-0.0025},{"s":"S4","t":0.055,"lo":-0.0045,"hi":-0.0015},{"s":"S4","t":0.057,"lo":-0.0025,"hi":0.0005},{"s":"S4","t":0.06,"lo":-0.0005,"hi":0.0025},
{"s":"S5","t":0,"lo":-0.0045,"hi":-0.0015},{"s":"S5","t":0.002,"lo":-0.0025,"hi":0.0005},{"s":"S5","t":0.004,"lo":0.0005,"hi":0.0035},{"s":"S5","t":0.006,"lo":0.0025,"hi":0.0055},{"s":"S5","t":0.008,"lo":0.0033,"hi":0.0063},{"s":"S5","t":0.01,"lo":0.0025,"hi":0.0055},{"s":"S5","t":0.012,"lo":0.0005,"hi":0.0035},{"s":"S5","t":0.014,"lo":-0.002,"hi":0.001},{"s":"S5","t":0.016,"lo":-0.0045,"hi":-0.0015},{"s":"S5","t":0.018,"lo":-0.0055,"hi":-0.0025},{"s":"S5","t":0.0199,"lo":-0.0055,"hi":-0.0025},{"s":"S5","t":0.02,"lo":-0.004,"hi":0.016},{"s":"S5","t":0.02008,"lo":-0.04,"hi":0},{"s":"S5","t":0.0204,"lo":-0.026,"hi":-0.012},{"s":"S5","t":0.0209,"lo":-0.013,"hi":-0.007},{"s":"S5","t":0.0216,"lo":-0.0015,"hi":0.0015},{"s":"S5","t":0.0225,"lo":0.0015,"hi":0.0045},{"s":"S5","t":0.024,"lo":0.004,"hi":0.007},{"s":"S5","t":0.026,"lo":0.003,"hi":0.006},{"s":"S5","t":0.028,"lo":0.0027,"hi":0.0057},{"s":"S5","t":0.0295,"lo":0.0025,"hi":0.0055},{"s":"S5","t":0.0299,"lo":-0.001,"hi":0.002},{"s":"S5","t":0.032,"lo":-0.0045,"hi":-0.0015},{"s":"S5","t":0.034,"lo":-0.0065,"hi":-0.0035},{"s":"S5","t":0.036,"lo":-0.0065,"hi":-0.0035},{"s":"S5","t":0.0395,"lo":-0.006,"hi":-0.003},{"s":"S5","t":0.0401,"lo":-0.002,"hi":0.001},{"s":"S5","t":0.042,"lo":0.001,"hi":0.004},{"s":"S5","t":0.044,"lo":0.0033,"hi":0.0063},{"s":"S5","t":0.0455,"lo":0.004,"hi":0.007},{"s":"S5","t":0.047,"lo":0.003,"hi":0.006},{"s":"S5","t":0.0495,"lo":0.0025,"hi":0.0055},{"s":"S5","t":0.0499,"lo":-0.001,"hi":0.002},{"s":"S5","t":0.052,"lo":-0.0045,"hi":-0.0015},{"s":"S5","t":0.054,"lo":-0.0065,"hi":-0.0035},{"s":"S5","t":0.056,"lo":-0.0063,"hi":-0.0033},{"s":"S5","t":0.0595,"lo":-0.005,"hi":-0.002},{"s":"S5","t":0.06,"lo":-0.0005,"hi":0.0025},
{"s":"S6","t":0,"lo":-0.0015,"hi":0.0035},{"s":"S6","t":0.003,"lo":-0.0013,"hi":0.0037},{"s":"S6","t":0.006,"lo":-0.0015,"hi":0.0035},{"s":"S6","t":0.009,"lo":-0.002,"hi":0.003},{"s":"S6","t":0.012,"lo":-0.003,"hi":0.002},{"s":"S6","t":0.015,"lo":-0.0035,"hi":0.0015},{"s":"S6","t":0.018,"lo":-0.003,"hi":0.002},{"s":"S6","t":0.0198,"lo":-0.0025,"hi":0.0025},{"s":"S6","t":0.02008,"lo":-0.036,"hi":-0.005},{"s":"S6","t":0.0202,"lo":-0.02,"hi":0},{"s":"S6","t":0.0207,"lo":-0.0025,"hi":0.0025},{"s":"S6","t":0.0213,"lo":0.0025,"hi":0.0075},{"s":"S6","t":0.022,"lo":0.0065,"hi":0.0115},{"s":"S6","t":0.0225,"lo":0.008,"hi":0.013},{"s":"S6","t":0.0233,"lo":0.006,"hi":0.011},{"s":"S6","t":0.0243,"lo":0.007,"hi":0.012},{"s":"S6","t":0.0255,"lo":0.0045,"hi":0.0095},{"s":"S6","t":0.027,"lo":0.0005,"hi":0.0055},{"s":"S6","t":0.0283,"lo":-0.002,"hi":0.003},{"s":"S6","t":0.0295,"lo":-0.0025,"hi":0.0025},{"s":"S6","t":0.0301,"lo":-0.011,"hi":-0.006},{"s":"S6","t":0.031,"lo":-0.0135,"hi":-0.0085},{"s":"S6","t":0.0325,"lo":-0.015,"hi":-0.01},{"s":"S6","t":0.034,"lo":-0.0125,"hi":-0.0075},{"s":"S6","t":0.0355,"lo":-0.0085,"hi":-0.0035},{"s":"S6","t":0.037,"lo":-0.0045,"hi":0.0005},{"s":"S6","t":0.0385,"lo":-0.0025,"hi":0.0025},{"s":"S6","t":0.0397,"lo":-0.0015,"hi":0.0035},{"s":"S6","t":0.0403,"lo":0.0055,"hi":0.0105},{"s":"S6","t":0.041,"lo":0.0085,"hi":0.0135},{"s":"S6","t":0.0425,"lo":0.0095,"hi":0.0145},{"s":"S6","t":0.044,"lo":0.008,"hi":0.013},{"s":"S6","t":0.0455,"lo":0.004,"hi":0.009},{"s":"S6","t":0.047,"lo":0,"hi":0.005},{"s":"S6","t":0.0485,"lo":-0.0025,"hi":0.0025},{"s":"S6","t":0.0497,"lo":-0.0025,"hi":0.0025},{"s":"S6","t":0.0503,"lo":-0.011,"hi":-0.006},{"s":"S6","t":0.051,"lo":-0.0135,"hi":-0.0085},{"s":"S6","t":0.0525,"lo":-0.015,"hi":-0.01},{"s":"S6","t":0.054,"lo":-0.013,"hi":-0.008},{"s":"S6","t":0.0555,"lo":-0.0085,"hi":-0.0035},{"s":"S6","t":0.057,"lo":-0.0045,"hi":0.0005},{"s":"S6","t":0.0585,"lo":-0.0025,"hi":0.0025},{"s":"S6","t":0.0595,"lo":-0.001,"hi":0.004},{"s":"S6","t":0.06,"lo":0.0075,"hi":0.0125}
],
"c": [
{"s":"S1","t":0,"lo":-0.012,"hi":0.02},{"s":"S1","t":0.003,"lo":-0.0115,"hi":0.0205},{"s":"S1","t":0.005,"lo":-0.016,"hi":0.019},{"s":"S1","t":0.008,"lo":-0.019,"hi":0.015},{"s":"S1","t":0.01,"lo":-0.021,"hi":0.012},{"s":"S1","t":0.012,"lo":-0.021,"hi":0.013},{"s":"S1","t":0.015,"lo":-0.018,"hi":0.014},{"s":"S1","t":0.017,"lo":-0.015,"hi":0.017},{"s":"S1","t":0.0198,"lo":-0.011,"hi":0.019},{"s":"S1","t":0.02,"lo":-0.01,"hi":0.02},{"s":"S1","t":0.02008,"lo":-0.0745,"hi":-0.01},{"s":"S1","t":0.0203,"lo":-0.06,"hi":-0.005},{"s":"S1","t":0.0206,"lo":-0.04,"hi":0},{"s":"S1","t":0.021,"lo":-0.01,"hi":0.02},{"s":"S1","t":0.0215,"lo":-0.004,"hi":0.03},{"s":"S1","t":0.0225,"lo":0.002,"hi":0.04},{"s":"S1","t":0.024,"lo":0.001,"hi":0.037},{"s":"S1","t":0.025,"lo":0,"hi":0.034},{"s":"S1","t":0.026,"lo":-0.006,"hi":0.029},{"s":"S1","t":0.027,"lo":-0.014,"hi":0.02},{"s":"S1","t":0.0275,"lo":-0.019,"hi":0.016},{"s":"S1","t":0.029,"lo":-0.021,"hi":0.013},{"s":"S1","t":0.0295,"lo":-0.022,"hi":0.012},{"s":"S1","t":0.03,"lo":-0.038,"hi":-0.005},{"s":"S1","t":0.0312,"lo":-0.046,"hi":-0.012},{"s":"S1","t":0.0323,"lo":-0.048,"hi":-0.014},{"s":"S1","t":0.0335,"lo":-0.045,"hi":-0.011},{"s":"S1","t":0.0347,"lo":-0.039,"hi":-0.006},{"s":"S1","t":0.0359,"lo":-0.031,"hi":0.002},{"s":"S1","t":0.0369,"lo":-0.021,"hi":0.01},{"s":"S1","t":0.0378,"lo":-0.013,"hi":0.015},{"s":"S1","t":0.0388,"lo":-0.01,"hi":0.017},{"s":"S1","t":0.0396,"lo":-0.009,"hi":0.019},{"s":"S1","t":0.04,"lo":0.005,"hi":0.038},{"s":"S1","t":0.0407,"lo":0.006,"hi":0.04},{"s":"S1","t":0.0421,"lo":0.01,"hi":0.044},{"s":"S1","t":0.0435,"lo":0.008,"hi":0.043},{"s":"S1","t":0.0449,"lo":0.002,"hi":0.037},{"s":"S1","t":0.0463,"lo":-0.006,"hi":0.027},{"s":"S1","t":0.0478,"lo":-0.015,"hi":0.018},{"s":"S1","t":0.0492,"lo":-0.019,"hi":0.014},{"s":"S1","t":0.0497,"lo":-0.021,"hi":0.012},{"s":"S1","t":0.0502,"lo":-0.036,"hi":-0.004},{"s":"S1","t":0.0512,"lo":-0.044,"hi":-0.011},{"s":"S1","t":0.0525,"lo":-0.046,"hi":-0.013},{"s":"S1","t":0.0538,"lo":-0.042,"hi":-0.009},{"s":"S1","t":0.0548,"lo":-0.034,"hi":-0.002},{"s":"S1","t":0.0558,"lo":-0.025,"hi":0.007},{"s":"S1","t":0.0568,"lo":-0.015,"hi":0.013},{"s":"S1","t":0.0578,"lo":-0.011,"hi":0.018},{"s":"S1","t":0.0587,"lo":-0.008,"hi":0.021},{"s":"S1","t":0.0596,"lo":-0.004,"hi":0.026},{"s":"S1","t":0.06,"lo":0.005,"hi":0.037},
{"s":"S2","t":0,"lo":-0.009,"hi":0.009},{"s":"S2","t":0.005,"lo":-0.009,"hi":0.009},{"s":"S2","t":0.01,"lo":-0.0095,"hi":0.0085},{"s":"S2","t":0.015,"lo":-0.009,"hi":0.009},{"s":"S2","t":0.0198,"lo":-0.0085,"hi":0.0095},{"s":"S2","t":0.02008,"lo":-0.035,"hi":0},{"s":"S2","t":0.0206,"lo":-0.009,"hi":0.009},{"s":"S2","t":0.0225,"lo":-0.0005,"hi":0.0175},{"s":"S2","t":0.025,"lo":-0.001,"hi":0.017},{"s":"S2","t":0.027,"lo":-0.007,"hi":0.011},{"s":"S2","t":0.029,"lo":-0.009,"hi":0.009},{"s":"S2","t":0.0297,"lo":-0.01,"hi":0.008},{"s":"S2","t":0.0303,"lo":-0.018,"hi":0},{"s":"S2","t":0.0325,"lo":-0.02,"hi":-0.002},{"s":"S2","t":0.035,"lo":-0.017,"hi":0.001},{"s":"S2","t":0.037,"lo":-0.013,"hi":0.005},{"s":"S2","t":0.039,"lo":-0.009,"hi":0.009},{"s":"S2","t":0.0398,"lo":-0.008,"hi":0.01},{"s":"S2","t":0.0405,"lo":0,"hi":0.018},{"s":"S2","t":0.043,"lo":0.003,"hi":0.021},{"s":"S2","t":0.045,"lo":0,"hi":0.018},{"s":"S2","t":0.047,"lo":-0.006,"hi":0.012},{"s":"S2","t":0.049,"lo":-0.009,"hi":0.009},{"s":"S2","t":0.0497,"lo":-0.01,"hi":0.008},{"s":"S2","t":0.0503,"lo":-0.018,"hi":0},{"s":"S2","t":0.0525,"lo":-0.02,"hi":-0.002},{"s":"S2","t":0.055,"lo":-0.017,"hi":0.001},{"s":"S2","t":0.057,"lo":-0.013,"hi":0.005},{"s":"S2","t":0.059,"lo":-0.009,"hi":0.009},{"s":"S2","t":0.06,"lo":-0.003,"hi":0.015},
{"s":"S3","t":0,"lo":-0.007,"hi":0.005},{"s":"S3","t":0.0025,"lo":-0.008,"hi":0.004},{"s":"S3","t":0.005,"lo":-0.0085,"hi":0.0035},{"s":"S3","t":0.0075,"lo":-0.0075,"hi":0.0045},{"s":"S3","t":0.01,"lo":-0.006,"hi":0.006},{"s":"S3","t":0.0125,"lo":-0.0045,"hi":0.0075},{"s":"S3","t":0.015,"lo":-0.004,"hi":0.008},{"s":"S3","t":0.0175,"lo":-0.0045,"hi":0.0075},{"s":"S3","t":0.0199,"lo":-0.005,"hi":0.007},{"s":"S3","t":0.02008,"lo":0,"hi":0.021},{"s":"S3","t":0.021,"lo":-0.0025,"hi":0.0065},{"s":"S3","t":0.023,"lo":-0.0045,"hi":0.0045},{"s":"S3","t":0.026,"lo":-0.0055,"hi":0.0035},{"s":"S3","t":0.029,"lo":-0.0065,"hi":0.0025},{"s":"S3","t":0.031,"lo":-0.0075,"hi":0.0015},{"s":"S3","t":0.034,"lo":-0.0075,"hi":0.0015},{"s":"S3","t":0.036,"lo":-0.0045,"hi":0.0045},{"s":"S3","t":0.038,"lo":-0.002,"hi":0.007},{"s":"S3","t":0.04,"lo":-0.0025,"hi":0.0065},{"s":"S3","t":0.043,"lo":-0.0045,"hi":0.0045},{"s":"S3","t":0.046,"lo":-0.0055,"hi":0.0035},{"s":"S3","t":0.049,"lo":-0.0065,"hi":0.0025},{"s":"S3","t":0.052,"lo":-0.0075,"hi":0.0015},{"s":"S3","t":0.054,"lo":-0.0075,"hi":0.0015},{"s":"S3","t":0.0565,"lo":-0.0045,"hi":0.0045},{"s":"S3","t":0.058,"lo":-0.0025,"hi":0.0065},{"s":"S3","t":0.06,"lo":-0.0025,"hi":0.0065},
{"s":"S4","t":0,"lo":-0.0065,"hi":0.0035},{"s":"S4","t":0.005,"lo":-0.005,"hi":0.005},{"s":"S4","t":0.01,"lo":-0.004,"hi":0.006},{"s":"S4","t":0.015,"lo":-0.0045,"hi":0.0055},{"s":"S4","t":0.0199,"lo":-0.006,"hi":0.004},{"s":"S4","t":0.021,"lo":-0.003,"hi":0.007},{"s":"S4","t":0.0235,"lo":-0.0015,"hi":0.0085},{"s":"S4","t":0.026,"lo":-0.003,"hi":0.007},{"s":"S4","t":0.028,"lo":-0.005,"hi":0.005},{"s":"S4","t":0.03,"lo":-0.007,"hi":0.003},{"s":"S4","t":0.033,"lo":-0.0085,"hi":0.0015},{"s":"S4","t":0.036,"lo":-0.007,"hi":0.003},{"s":"S4","t":0.038,"lo":-0.005,"hi":0.005},{"s":"S4","t":0.041,"lo":-0.002,"hi":0.008},{"s":"S4","t":0.0435,"lo":-0.0015,"hi":0.0085},{"s":"S4","t":0.046,"lo":-0.0025,"hi":0.0075},{"s":"S4","t":0.048,"lo":-0.005,"hi":0.005},{"s":"S4","t":0.05,"lo":-0.007,"hi":0.003},{"s":"S4","t":0.053,"lo":-0.0085,"hi":0.0015},{"s":"S4","t":0.056,"lo":-0.007,"hi":0.003},{"s":"S4","t":0.058,"lo":-0.005,"hi":0.005},{"s":"S4","t":0.06,"lo":-0.004,"hi":0.006},
{"s":"S5","t":0,"lo":-0.008,"hi":0.002},{"s":"S5","t":0.002,"lo":-0.0062,"hi":0.0038},{"s":"S5","t":0.004,"lo":-0.0035,"hi":0.0065},{"s":"S5","t":0.006,"lo":-0.002,"hi":0.008},{"s":"S5","t":0.008,"lo":-0.0012,"hi":0.0088},{"s":"S5","t":0.01,"lo":-0.0015,"hi":0.0085},{"s":"S5","t":0.012,"lo":-0.003,"hi":0.007},{"s":"S5","t":0.014,"lo":-0.005,"hi":0.005},{"s":"S5","t":0.016,"lo":-0.007,"hi":0.003},{"s":"S5","t":0.018,"lo":-0.0085,"hi":0.0015},{"s":"S5","t":0.0199,"lo":-0.0088,"hi":0.0012},{"s":"S5","t":0.02,"lo":-0.005,"hi":0.009},{"s":"S5","t":0.02008,"lo":-0.041,"hi":0},{"s":"S5","t":0.0204,"lo":-0.028,"hi":-0.005},{"s":"S5","t":0.0209,"lo":-0.015,"hi":-0.002},{"s":"S5","t":0.0216,"lo":-0.004,"hi":0.005},{"s":"S5","t":0.022,"lo":-0.0038,"hi":0.0062},{"s":"S5","t":0.0235,"lo":-0.002,"hi":0.008},{"s":"S5","t":0.025,"lo":-0.0005,"hi":0.0095},{"s":"S5","t":0.0265,"lo":-0.001,"hi":0.009},{"s":"S5","t":0.028,"lo":-0.001,"hi":0.009},{"s":"S5","t":0.0294,"lo":-0.001,"hi":0.009},{"s":"S5","t":0.0298,"lo":-0.004,"hi":0.006},{"s":"S5","t":0.031,"lo":-0.0065,"hi":0.0035},{"s":"S5","t":0.033,"lo":-0.0088,"hi":0.0012},{"s":"S5","t":0.035,"lo":-0.01,"hi":0},{"s":"S5","t":0.037,"lo":-0.0095,"hi":0.0005},{"s":"S5","t":0.0395,"lo":-0.009,"hi":0.001},{"s":"S5","t":0.0401,"lo":-0.0055,"hi":0.0045},{"s":"S5","t":0.042,"lo":-0.0035,"hi":0.0065},{"s":"S5","t":0.044,"lo":-0.0015,"hi":0.0085},{"s":"S5","t":0.0455,"lo":-0.0005,"hi":0.0095},{"s":"S5","t":0.047,"lo":-0.001,"hi":0.009},{"s":"S5","t":0.0494,"lo":-0.001,"hi":0.009},{"s":"S5","t":0.0498,"lo":-0.004,"hi":0.006},{"s":"S5","t":0.051,"lo":-0.0065,"hi":0.0035},{"s":"S5","t":0.053,"lo":-0.0088,"hi":0.0012},{"s":"S5","t":0.055,"lo":-0.01,"hi":0},{"s":"S5","t":0.057,"lo":-0.0093,"hi":0.0007},{"s":"S5","t":0.0595,"lo":-0.0088,"hi":0.0012},{"s":"S5","t":0.06,"lo":-0.005,"hi":0.005},
{"s":"S6","t":0,"lo":-0.0085,"hi":0.0085},{"s":"S6","t":0.005,"lo":-0.0085,"hi":0.0085},{"s":"S6","t":0.01,"lo":-0.0095,"hi":0.0075},{"s":"S6","t":0.015,"lo":-0.009,"hi":0.008},{"s":"S6","t":0.0198,"lo":-0.0085,"hi":0.0085},{"s":"S6","t":0.02008,"lo":-0.04,"hi":0},{"s":"S6","t":0.0203,"lo":-0.03,"hi":0.003},{"s":"S6","t":0.0206,"lo":-0.0085,"hi":0.0085},{"s":"S6","t":0.0215,"lo":-0.0035,"hi":0.0135},{"s":"S6","t":0.0225,"lo":0.0005,"hi":0.0175},{"s":"S6","t":0.025,"lo":-0.0005,"hi":0.0165},{"s":"S6","t":0.027,"lo":-0.0065,"hi":0.0105},{"s":"S6","t":0.029,"lo":-0.0085,"hi":0.0085},{"s":"S6","t":0.0297,"lo":-0.0095,"hi":0.0075},{"s":"S6","t":0.0303,"lo":-0.018,"hi":-0.001},{"s":"S6","t":0.0325,"lo":-0.02,"hi":-0.003},{"s":"S6","t":0.035,"lo":-0.017,"hi":0},{"s":"S6","t":0.037,"lo":-0.0125,"hi":0.0045},{"s":"S6","t":0.039,"lo":-0.0085,"hi":0.0085},{"s":"S6","t":0.0398,"lo":-0.0075,"hi":0.0095},{"s":"S6","t":0.0405,"lo":0.001,"hi":0.018},{"s":"S6","t":0.043,"lo":0.004,"hi":0.021},{"s":"S6","t":0.045,"lo":0.0005,"hi":0.0175},{"s":"S6","t":0.047,"lo":-0.0055,"hi":0.0115},{"s":"S6","t":0.049,"lo":-0.009,"hi":0.008},{"s":"S6","t":0.0497,"lo":-0.01,"hi":0.007},{"s":"S6","t":0.0503,"lo":-0.018,"hi":-0.001},{"s":"S6","t":0.0525,"lo":-0.0195,"hi":-0.0025},{"s":"S6","t":0.055,"lo":-0.0165,"hi":0.0005},{"s":"S6","t":0.057,"lo":-0.0125,"hi":0.0045},{"s":"S6","t":0.059,"lo":-0.0075,"hi":0.0095},{"s":"S6","t":0.06,"lo":-0.0025,"hi":0.0145}
]
}
}
